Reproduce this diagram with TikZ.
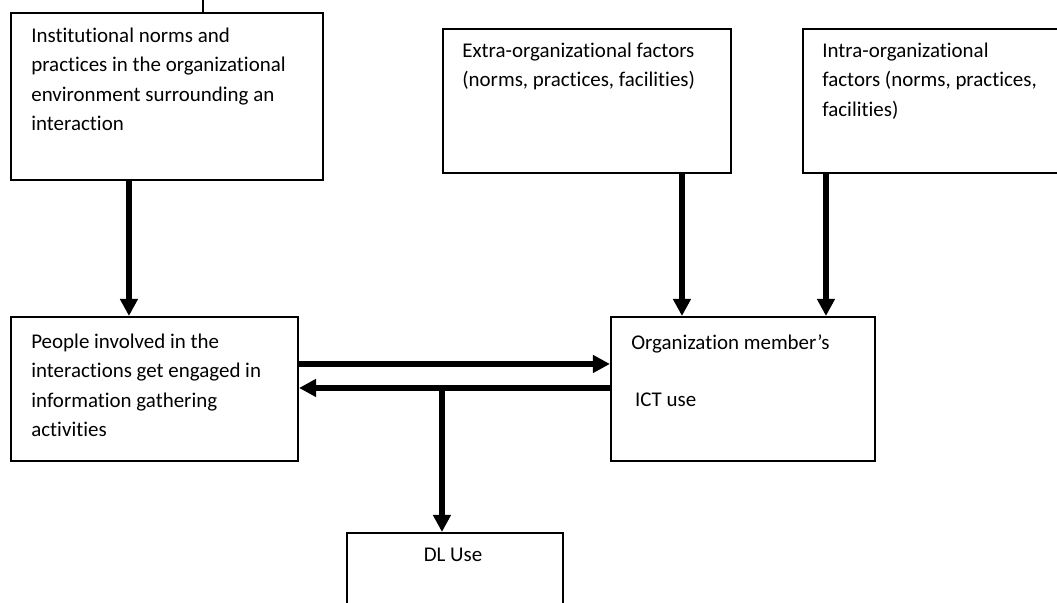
\documentclass[tikz,border=0pt]{standalone}
\usepackage{fontspec}
\setmainfont{Carlito}[Ligatures=NoCommon]
\usepackage{tikz}
\usetikzlibrary{positioning,calc,fit}
\usetikzlibrary{arrows.meta}

\tikzset{
    box/.style={draw, line width=1.1pt, inner sep=0pt, fill=white},
    txt/.style={anchor=north west, inner sep=0pt, align=left, font=\fontsize{11.1}{15.4}\selectfont},
    flow/.style={line width=3.3pt, -{Triangle[length=9pt,width=9pt]}}
}

\begin{document}
\begin{tikzpicture}[x=0.53pt,y=-0.53pt]

    \clip (0,0) rectangle (1057,602);

    % boxes
    \node[box, fit={(11,13) (323,180)}](inst) {};
    \node[box, fit={(443,29) (731,173)}](extra) {};
    \node[box, fit={(803,29) (1075,173)}](intra) {};
    \node[box, fit={(11,317) (298,461)}](people) {};
    \node[box, fit={(611,317) (875,461)}](org) {};
    \node[box, fit={(347,533) (563,620)}](dl) {};

    % texts
    \node[txt] (insttxt) at ($(inst.north west)+(21,16)$) {Institutional norms and\\practices in the organizational\\environment surrounding an\\interaction};
    \node[txt] (extratxt) at ($(extra.north west)+(20,15)$) {Extra-organizational factors\\(norms, practices, facilities)};
    \node[txt] (intratxt) at ($(intra.north west)+(20,15)$) {Intra-organizational\\factors (norms, practices,\\facilities)};
    \node[txt] (peopletxt) at ($(people.north west)+(21,18)$) {People involved in the\\interactions get engaged in\\information gathering\\activities};
    \node[txt] (orgtxt) at ($(org.north west)+(21,18)$) {Organization member's\\[14.8pt]\hspace*{2pt}ICT use};
    \node[anchor=base, inner sep=0pt, font=\fontsize{11.1}{15.4}\selectfont] (dltxt) at ($(dl.north)+(-2,30)$) {DL Use};

    % small tick above the first box
    \coordinate (tick) at (203,0);
    \draw[line width=1pt] (tick) -- (tick |- inst.north);

    % arrows
    \coordinate (a0) at ($(people.north west)+(119,0)$);
    \coordinate (a1) at ($(org.north west)+(72,0)$);
    \coordinate (a2) at ($(org.north west)+(216,0)$);
    \coordinate (b1) at ($(people.north east)+(0,48)$);
    \coordinate (b2) at ($(people.north east)+(0,72)$);
    \coordinate (c1) at ($(dl.north west)+(96,0)$);

    \draw[flow] (a0 |- inst.south) -- (a0);
    \draw[flow] (a1 |- extra.south) -- (a1);
    \draw[flow] (a2 |- intra.south) -- (a2);
    \draw[flow] (b1) -- (b1 -| org.west);
    \draw[flow] (b2 -| org.west) -- (b2);
    \draw[flow] (c1 |- b2) -- (c1);

\end{tikzpicture}
\end{document}
